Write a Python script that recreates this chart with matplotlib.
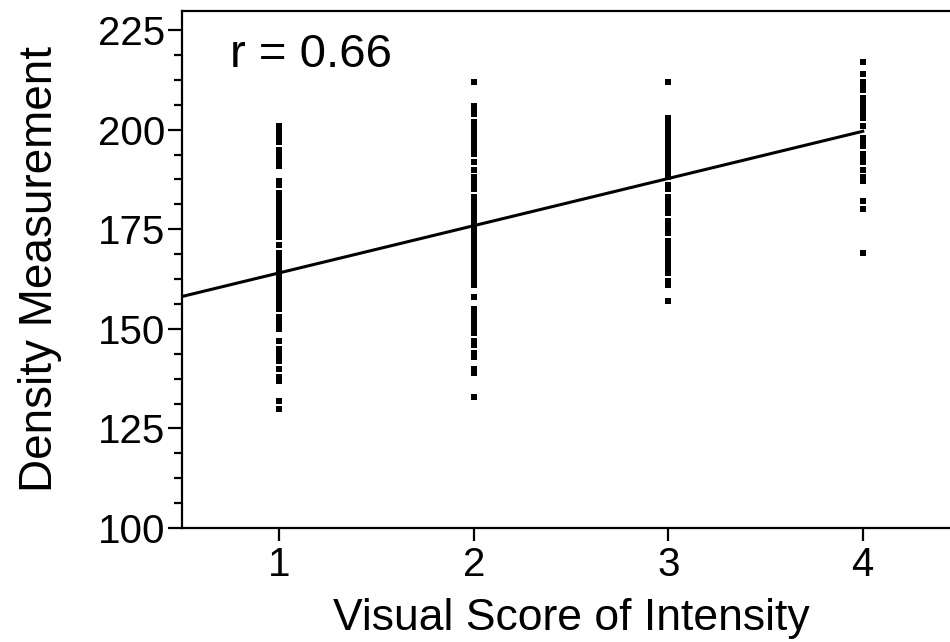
import matplotlib
matplotlib.use("Agg")
import matplotlib.pyplot as plt
from matplotlib.ticker import MultipleLocator, AutoMinorLocator

plt.rcParams['font.family'] = ['Liberation Sans', 'DejaVu Sans']

# ----- DATA -----
scores = [1, 2, 3, 4]

density_1 = [201, 200, 199, 198, 197, 195, 194, 193, 192, 191, 187, 186, 184, 183,
             182, 181, 180, 179, 178, 177, 176, 175, 174, 173, 171, 169, 168, 167,
             166, 165, 164, 163, 162, 161, 160, 159, 158, 157, 156, 155, 153, 152,
             151, 150, 147, 145, 144, 143, 142, 140, 138, 137, 132, 130]
density_2 = [212, 206, 205, 204, 202, 201, 200, 199, 198, 197, 196, 195, 194, 192,
             190, 188, 187, 186, 185, 183, 182, 181, 180, 179, 178, 177, 176, 175,
             174, 173, 172, 171, 170, 169, 168, 167, 166, 165, 164, 163, 162, 161,
             158, 155, 154, 153, 152, 151, 150, 149, 147, 146, 144, 143, 140, 139, 133]
density_3 = [212, 203, 202, 201, 200, 199, 198, 197, 196, 195, 194, 193, 192, 191,
             190, 189, 188, 186, 185, 183, 182, 181, 180, 179, 177, 176, 175, 174,
             172, 171, 170, 169, 168, 167, 166, 165, 164, 162, 161, 157]
density_4 = [217, 214, 212, 211, 210, 208, 207, 206, 205, 204, 203, 201, 198, 197,
             196, 194, 193, 192, 190, 188, 187, 182, 180, 169]

groups = [density_1, density_2, density_3, density_4]

# fitted line
intercept = 152.2
slope = 11.85
line_x = [0.5, 4]
r_text = "r = 0.66"

# --- Figure setup ---
W, H = 950, 642
fig = plt.figure(figsize=(W / 100, H / 100), dpi=100)
left, right, bottom, top = 182, 960, 528, 11
ax = fig.add_axes([left / W, (H - bottom) / H, (right - left) / W, (bottom - top) / H])

for s, vals in zip(scores, groups):
    ax.plot([s] * len(vals), vals, linestyle='none', marker='s',
            markersize=4.6, color='black', markeredgewidth=0)

ax.plot(line_x, [intercept + slope * x for x in line_x], color='black', lw=2.2)

ax.set_xlim(0.5, 4.5)
ax.set_ylim(100, 229.8)
ax.set_xticks(scores)
ax.yaxis.set_major_locator(MultipleLocator(25))
ax.yaxis.set_minor_locator(AutoMinorLocator(4))

for sp in ax.spines.values():
    sp.set_linewidth(1.6)
ax.spines['right'].set_visible(False)

ax.tick_params(axis='y', which='major', length=10, width=1.6, labelsize=29, pad=2)
ax.tick_params(axis='y', which='minor', length=6, width=1.6)
ax.tick_params(axis='x', which='major', length=9, width=1.6, labelsize=29, pad=4)

ax.set_xlabel("Visual Score of Intensity", fontsize=32, labelpad=10)
ax.set_ylabel("Density Measurement", fontsize=33, labelpad=26)

ax.text(0.062, 0.915, r_text, transform=ax.transAxes, fontsize=34,
        ha='left', va='center')

fig.savefig("out.png", dpi=100)
